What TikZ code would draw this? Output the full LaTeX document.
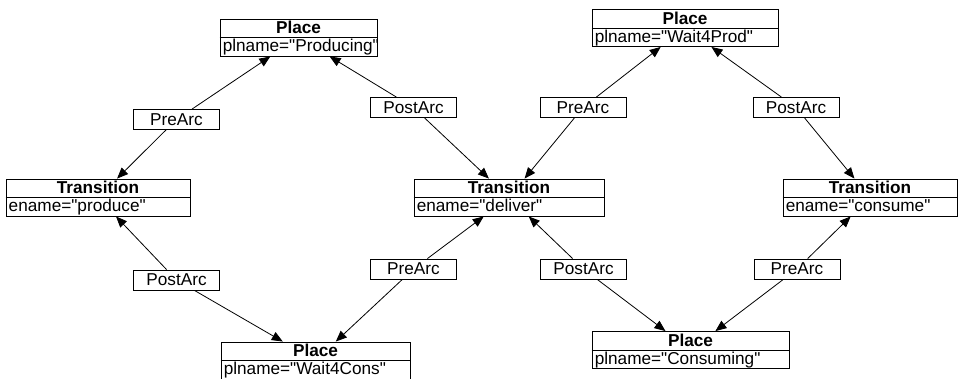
\documentclass[tikz,border=0pt]{standalone}
\usepackage{fontspec}
\setmainfont{Liberation Sans}[Ligatures=TeXOff]
\usetikzlibrary{arrows.meta,calc}

\begin{document}
\begin{tikzpicture}[x=1pt,y=-1pt,>={Triangle[length=11pt,width=9pt]},
  every node/.style={font=\fontsize{17.2}{20}\selectfont},
  elembox/.style={draw,line width=0.9pt,minimum height=37pt,inner sep=0pt},
  arcbox/.style={draw,line width=0.9pt,minimum width=86pt,minimum height=20pt,inner sep=0pt},
  headtxt/.style={anchor=base,inner sep=0pt,font=\fontsize{17.2}{20}\selectfont\bfseries},
  valtxt/.style={anchor=base west,inner sep=0pt},
  link/.style={->,line width=0.8pt}]
\useasboundingbox (0,0) rectangle (963,378);

% places
\node[elembox,minimum width=157pt] (producing) at (298.5,37.5) {};
\node[headtxt] (producing-h) at ([yshift=-15pt]producing.north) {Place};
\node[valtxt] (producing-v) at ([xshift=3pt,yshift=-33pt]producing.north west) {plname="Producing"};
\draw[line width=0.9pt] (producing.west) -- (producing.east);

\node[elembox,minimum width=186pt] (waitprod) at (685,28) {};
\node[headtxt] (waitprod-h) at ([yshift=-15pt]waitprod.north) {Place};
\node[valtxt] (waitprod-v) at ([xshift=3pt,yshift=-33pt]waitprod.north west) {plname="Wait4Prod"};
\draw[line width=0.9pt] (waitprod.west) -- (waitprod.east);

\node[elembox,minimum width=189pt] (waitcons) at (315.5,360.5) {};
\node[headtxt] (waitcons-h) at ([yshift=-15pt]waitcons.north) {Place};
\node[valtxt] (waitcons-v) at ([xshift=3pt,yshift=-33pt]waitcons.north west) {plname="Wait4Cons"};
\draw[line width=0.9pt] (waitcons.west) -- (waitcons.east);

\node[elembox,minimum width=197pt] (consuming) at (690.5,350) {};
\node[headtxt] (consuming-h) at ([yshift=-15pt]consuming.north) {Place};
\node[valtxt] (consuming-v) at ([xshift=3pt,yshift=-33pt]consuming.north west) {plname="Consuming"};
\draw[line width=0.9pt] (consuming.west) -- (consuming.east);

% transitions
\node[elembox,minimum width=184pt] (produce) at (98,197.5) {};
\node[headtxt] (produce-h) at ([yshift=-15pt]produce.north) {Transition};
\node[valtxt] (produce-v) at ([xshift=3pt,yshift=-33pt]produce.north west) {ename="produce"};
\draw[line width=0.9pt] (produce.west) -- (produce.east);

\node[elembox,minimum width=190pt] (deliver) at (509,197.5) {};
\node[headtxt] (deliver-h) at ([yshift=-15pt]deliver.north) {Transition};
\node[valtxt] (deliver-v) at ([xshift=3pt,yshift=-33pt]deliver.north west) {ename="deliver"};
\draw[line width=0.9pt] (deliver.west) -- (deliver.east);

\node[elembox,minimum width=174pt] (consume) at (870,197.5) {};
\node[headtxt] (consume-h) at ([yshift=-15pt]consume.north) {Transition};
\node[valtxt] (consume-v) at ([xshift=3pt,yshift=-33pt]consume.north west) {ename="consume"};
\draw[line width=0.9pt] (consume.west) -- (consume.east);

% arcs
\node[arcbox] (pre1) at (176.5,119.5) {PreArc};
\node[arcbox] (post1) at (413.5,107.5) {PostArc};
\node[arcbox] (pre2) at (583,107.5) {PreArc};
\node[arcbox] (post2) at (796,107.5) {PostArc};
\node[arcbox] (post3) at (176.5,280) {PostArc};
\node[arcbox] (pre3) at (413.5,269) {PreArc};
\node[arcbox] (post4) at (583.5,269) {PostArc};
\node[arcbox] (pre4) at (797,269) {PreArc};

\draw[link] (pre1) -- (producing);
\draw[link] (pre1) -- (produce);
\draw[link] (post1) -- (producing);
\draw[link] (post1) -- (deliver);
\draw[link] (pre2) -- (waitprod);
\draw[link] (pre2) -- (deliver);
\draw[link] (post2) -- (waitprod);
\draw[link] (post2) -- (consume);
\draw[link] (post3) -- (produce);
\draw[link] (post3) -- (waitcons);
\draw[link] (pre3) -- (deliver);
\draw[link] (pre3) -- (waitcons);
\draw[link] (post4) -- (deliver);
\draw[link] (post4) -- (consuming);
\draw[link] (pre4) -- (consume);
\draw[link] (pre4) -- (consuming);
\end{tikzpicture}
\end{document}
